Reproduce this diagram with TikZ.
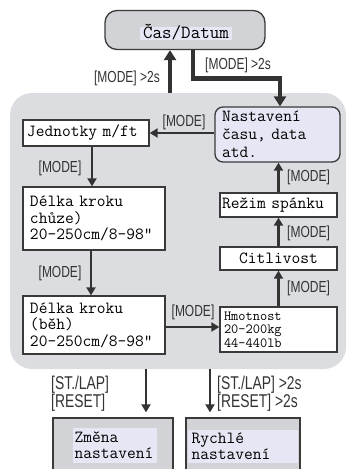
\documentclass[tikz,border=0pt]{standalone}
\usepackage{fontspec}
\setmainfont{Liberation Sans}
\newfontfamily\narrowfont[FakeStretch=0.75]{Liberation Sans}
\usetikzlibrary{arrows.meta,calc}

\definecolor{panelgray}{HTML}{DCDDE1}
\definecolor{topgray}{HTML}{D2D3D7}
\definecolor{lav}{HTML}{E6E6F4}
\definecolor{ink}{HTML}{333333}
\definecolor{edge}{HTML}{3A3A3A}

\begin{document}
\begin{tikzpicture}[x=1pt,y=-1pt,
  box/.style={draw=edge, line width=1.3pt, fill=white, inner ysep=0pt,
    align=left, font=\ttfamily\fontsize{17}{16.5}\selectfont},
  graybox/.style={draw=edge, line width=1.3pt, fill=topgray, inner sep=0pt},
  hl/.style={fill=lav, inner sep=0pt, align=left,
    font=\ttfamily\fontsize{17}{16}\selectfont},
  arr/.style={draw=ink, line width=2.6pt, -{Triangle[length=8pt,width=9pt]}},
  bigarr/.style={draw=ink, line width=4.5pt, -{Triangle[length=10pt,width=12pt]}},
  lbl/.style={font=\narrowfont\fontsize{16}{17}\selectfont, text=ink, inner sep=0pt},
  lblbig/.style={font=\narrowfont\fontsize{18.5}{18}\selectfont, text=ink, inner sep=0pt, align=left},
]
\clip (0,0) rectangle (349,469);

% outer panel with the setting menu
\node[fill=panelgray, rounded corners=22pt, minimum width=336pt, minimum height=276pt,
  inner sep=0pt] (panel) at (178,231) {};

% time / date display
\node[graybox, rounded corners=12pt, minimum width=160pt, minimum height=39pt] (cas) at (185,30) {};
\node[fill=lav, inner sep=0pt, minimum width=92pt, text height=11pt, text depth=2pt,
  font=\ttfamily\fontsize{18.5}{18}\selectfont] (castext) at (186,33.5) {Čas/Datum};

% menu boxes, left column
\node[box, inner xsep=4pt, text width=118pt, minimum height=26pt] (jed) at (86,133) {Jednotky m/ft};
\node[box, inner xsep=7pt, text width=128pt, minimum height=63pt] (chuze) at (94,218.5)
  {Délka kroku\\chůze)\\20-250cm/8-98"};
\node[box, inner xsep=7pt, text width=128pt, minimum height=58pt] (beh) at (94,325)
  {Délka kroku\\(běh)\\20-250cm/8-98"};

% menu boxes, right column
\node[box, inner xsep=4pt, text width=109pt, minimum height=45pt,
  font=\ttfamily\fontsize{14}{13.5}\selectfont] (hmot) at (278.5,329.5)
  {Hmotnost\\20-200kg\\44-440lb};
\node[box, inner xsep=4pt, text width=109pt, minimum height=23pt, align=center] (cit) at (278.5,258.5) {Citlivost};
\node[box, inner xsep=2pt, text width=113pt, minimum height=24pt] (rez) at (278.5,205) {Režim spánku};
\node[box, fill=lav, rounded corners=8pt, inner xsep=7pt, text width=111pt, minimum height=55pt,
  font=\ttfamily\fontsize{17}{18}\selectfont] (nast) at (277.5,134.5)
  {Nastavení\\času, data\\atd.};

% result screens at the bottom
\node[graybox, minimum width=120pt, minimum height=62pt] (zm) at (113,449) {};
\node[hl, anchor=north west, minimum width=84pt, minimum height=35pt, text width=80pt,
  inner xsep=2pt] (zmtext) at ([xshift=20pt,yshift=-10pt]zm.north west) {Změna\\nastavení};
\node[graybox, minimum width=114pt, minimum height=62pt] (ry) at (243,449) {};
\node[hl, anchor=north west, minimum width=110pt, minimum height=33pt, text width=102pt,
  inner xsep=4pt] (rytext) at ([xshift=2pt,yshift=-12pt]ry.north west) {Rychlé\\nastavení};

% connectors inside the menu
\draw[arr] ([xshift=6pt]jed.south) -- ([xshift=6pt]jed.south |- chuze.north);
\draw[arr] ([xshift=-3pt]chuze.south) -- ([xshift=-3pt]chuze.south |- beh.north);
\draw[arr] ([yshift=-2pt]beh.east) -- ([yshift=-2pt]beh.east -| hmot.west);
\draw[arr] (hmot.north) -- (cit.south);
\draw[arr] (cit.north) -- (rez.south);
\draw[arr] (rez.north) -- (rez.north |- nast.south);
\draw[arr] (nast.west |- jed.east) -- (jed.east);

% long presses between display and menu
\coordinate (upA) at ([xshift=-15pt]cas.south);
\draw[bigarr] (upA |- panel.north) -- (upA);
\coordinate (dnA) at ([xshift=8pt]cas.south);
\coordinate (dnB) at ([xshift=2.5pt]nast.north);
\coordinate (mid) at ($(dnA)!0.5!(dnB)$);
\draw[bigarr] (dnA) -- (dnA |- mid) -- (dnB |- mid) -- (dnB);

% exits at the bottom
\coordinate (stA) at ([xshift=33pt,yshift=5pt]zm.north);
\draw[arr] (stA |- panel.south) -- (stA);
\coordinate (stB) at ([xshift=-33pt,yshift=5pt]ry.north);
\draw[arr] (stB |- panel.south) -- (stB);

% labels
\node[lbl, anchor=east] (l1) at (160,78) {[MODE] >2s};
\node[lbl, anchor=west] (l2) at (205,65) {[MODE] >2s};
\node[lbl] (l3) at (184,122) {[MODE]};
\node[lbl] (l4) at (60,168) {[MODE]};
\node[lbl] (l5) at (60,273) {[MODE]};
\node[lbl] (l6) at (193,312) {[MODE]};
\node[lbl, anchor=west] (l7) at (287,177) {[MODE]};
\node[lbl, anchor=west] (l8) at (287,233) {[MODE]};
\node[lbl, anchor=west] (l9) at (287,288) {[MODE]};
\node[lblbig, anchor=west] (l10) at (51,394) {[ST./LAP]\\{[RESET]}};
\node[lblbig, anchor=west] (l11) at (217,394) {[ST./LAP] >2s\\{[RESET] >2s}};
\end{tikzpicture}
\end{document}
